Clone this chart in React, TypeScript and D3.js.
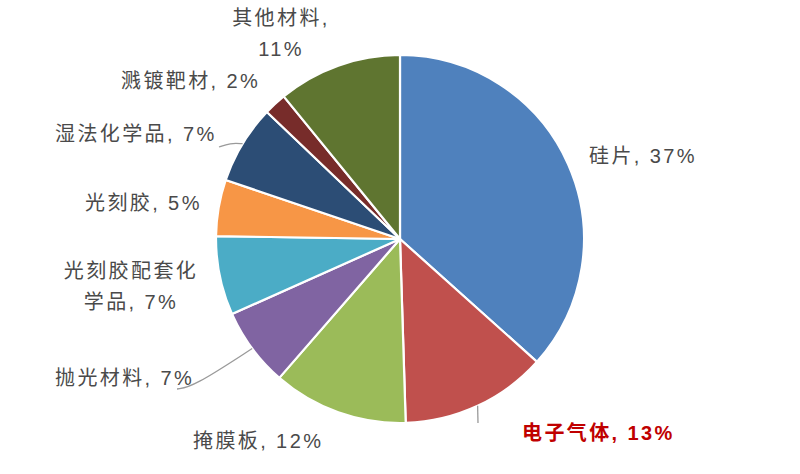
import { useEffect, useRef } from "react";
import * as d3 from "d3";

const categories = [
  "硅片",
  "电子气体",
  "掩膜板",
  "抛光材料",
  "光刻胶配套化学品",
  "光刻胶",
  "湿法化学品",
  "溅镀靶材",
  "其他材料",
];
const shares = [37, 13, 12, 7, 7, 5, 7, 2, 11];
const colors = [
  "#4F81BD",
  "#C0504D",
  "#9BBB59",
  "#8064A2",
  "#4BACC6",
  "#F79646",
  "#2C4D75",
  "#772C2A",
  "#5F7530",
];

// label text lines, anchor position and optional leader line per slice
const labelLayout: any[] = [
  { lines: ["硅片, 37%"], x: 589, y: 163, anchor: "start" },
  { lines: ["电子气体, 13%"], x: 522, y: 440, anchor: "start", bold: true, leader: [[478, 423]] },
  { lines: ["掩膜板, 12%"], x: 193, y: 448, anchor: "start" },
  { lines: ["抛光材料, 7%"], x: 55, y: 385, anchor: "start", leader: [[193, 387], [177, 389]] },
  { lines: ["光刻胶配套化", "学品, 7%"], x: 131, y: 278, anchor: "middle" },
  { lines: ["光刻胶, 5%"], x: 85, y: 210, anchor: "start" },
  { lines: ["湿法化学品, 7%"], x: 55, y: 141, anchor: "start", leader: [[230, 143], [219, 147]] },
  { lines: ["溅镀靶材, 2%"], x: 121, y: 88, anchor: "start" },
  { lines: ["其他材料,", "11%"], x: 281, y: 25, anchor: "middle" },
];

const width = 800;
const height = 474;

function App() {
  const svgRef = useRef<SVGSVGElement | null>(null);

  useEffect(() => {
    const svg: any = d3.select(svgRef.current);
    svg.selectAll("*").remove();

    const cx = 400;
    const cy = 239;
    const radius = 184;

    const data = categories.map((name, i) => ({ name, value: shares[i], color: colors[i] }));

    const pie: any = d3
      .pie()
      .sort(null)
      .value((d: any) => d.value);
    const arcs = pie(data);

    const arcGen: any = d3.arc().innerRadius(0).outerRadius(radius);

    const g = svg.append("g").attr("transform", `translate(${cx}, ${cy})`);

    g.selectAll("path")
      .data(arcs)
      .enter()
      .append("path")
      .attr("d", arcGen)
      .style("fill", (d: any) => d.data.color)
      .style("stroke", "#ffffff")
      .style("stroke-width", 2.2)
      .style("stroke-linejoin", "round");

    // leader lines start on the rim at the slice mid angle
    arcs.forEach((a: any, i: number) => {
      const lay = labelLayout[i];
      if (!lay.leader) return;
      const mid = (a.startAngle + a.endAngle) / 2;
      const start: [number, number] = [cx + radius * Math.sin(mid), cy - radius * Math.cos(mid)];
      const pts = [start, ...lay.leader];
      svg
        .append("path")
        .attr("d", d3.line().curve(d3.curveBasis)(pts as any))
        .style("fill", "none")
        .style("stroke", "#9a9a9a")
        .style("stroke-width", 1.3);
    });

    labelLayout.forEach((lay: any) => {
      const t = svg
        .append("text")
        .attr("x", lay.x)
        .attr("y", lay.y)
        .attr("text-anchor", lay.anchor)
        .style("font-family", "'Liberation Sans', Arial, 'Noto Sans CJK SC', sans-serif")
        .style("font-size", "20px")
        .style("letter-spacing", "2.4px")
        .style("font-weight", lay.bold ? "bold" : "normal")
        .style("fill", lay.bold ? "#C00000" : "#4a4a4a");
      lay.lines.forEach((line: string, k: number) => {
        t.append("tspan")
          .attr("x", lay.x)
          .attr("dy", k === 0 ? 0 : 31)
          .text(line);
      });
    });
  }, []);

  return (
    <svg
      ref={svgRef}
      width={width}
      height={height}
      style={{ position: "absolute", left: 0, top: 0, background: "#ffffff" }}
    ></svg>
  );
}

export default App;
